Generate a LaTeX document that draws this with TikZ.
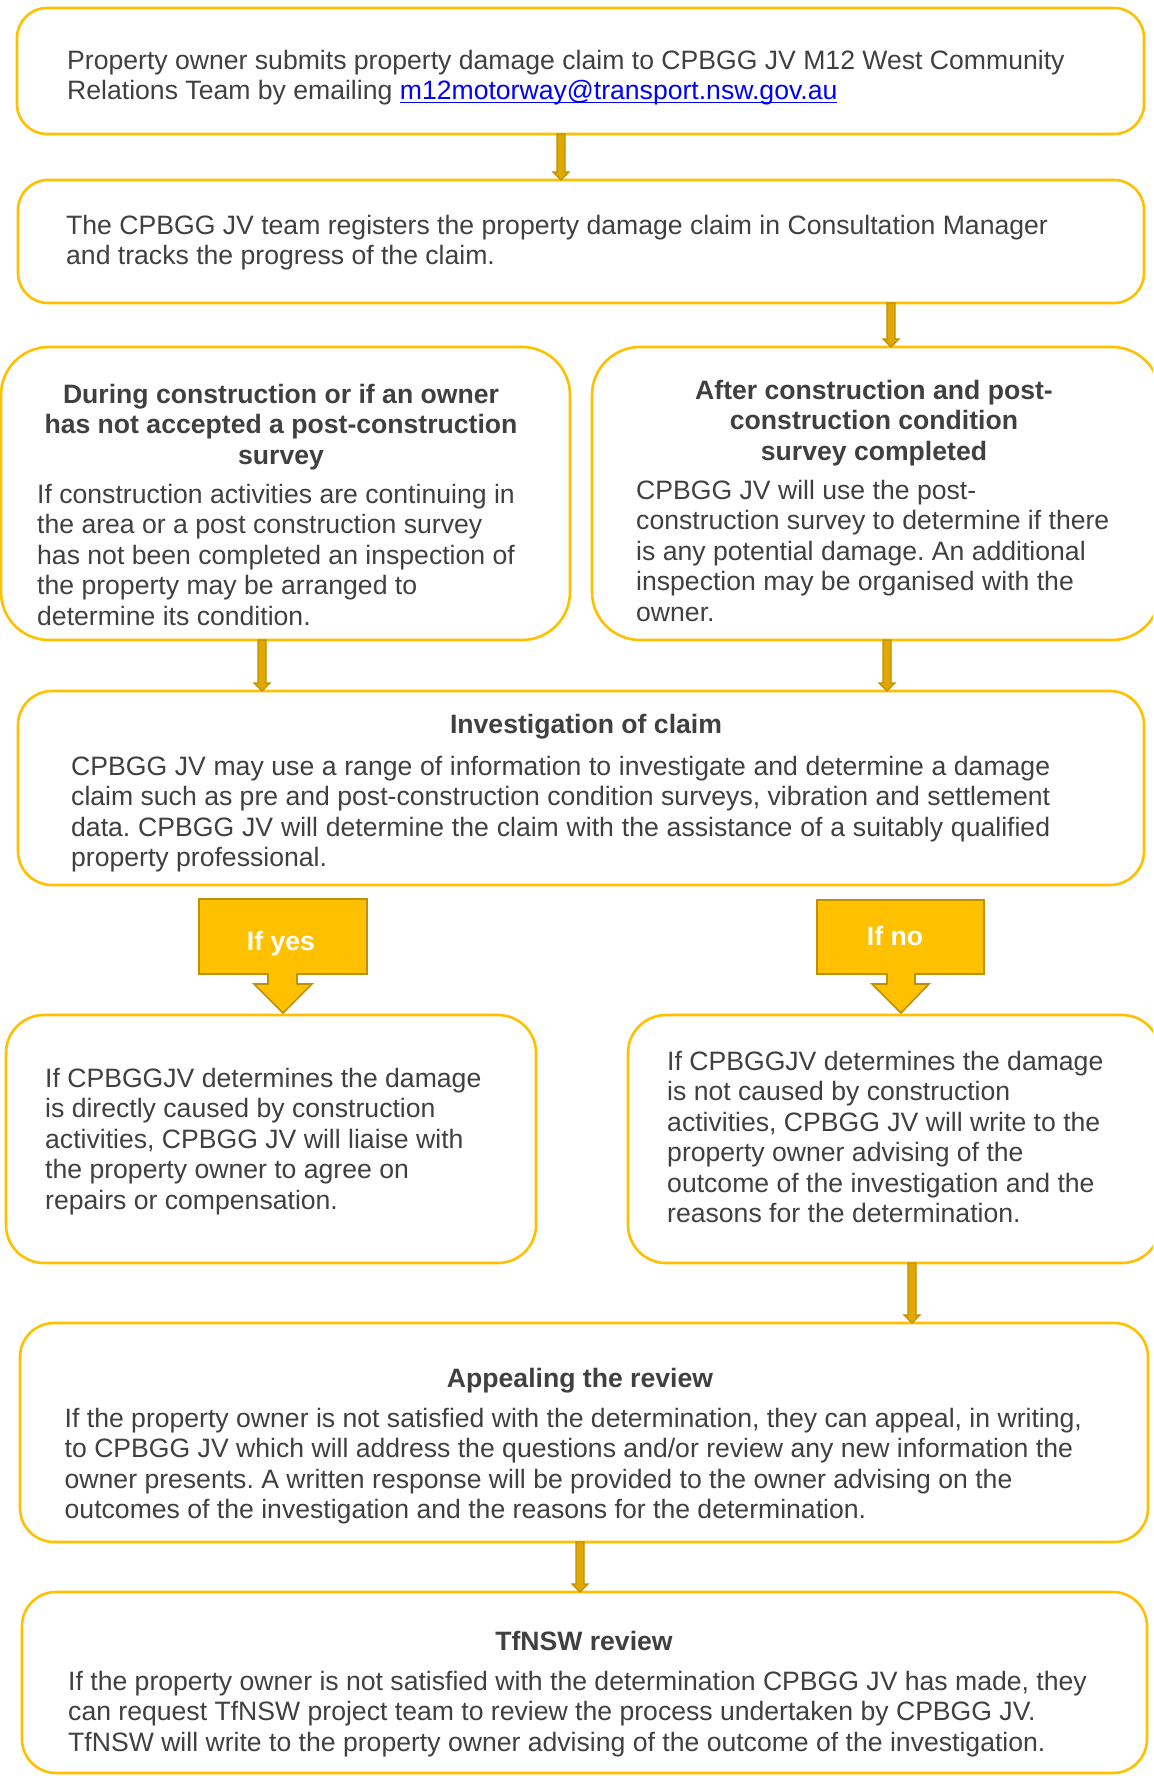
\documentclass[tikz,border=0pt]{standalone}
\usepackage{fontspec}
\setmainfont{Liberation Sans}
\usetikzlibrary{calc}
\definecolor{gold}{HTML}{FFC000}
\definecolor{darkgold}{HTML}{BF9000}
\definecolor{shaftgold}{HTML}{E0A800}
\definecolor{tgray}{HTML}{404040}
\definecolor{linkblue}{HTML}{0000FF}
\newcommand\bodyfont{\fontsize{26.6}{30.5}\selectfont\frenchspacing}
\newcommand\linkul[1]{\setbox0\hbox{#1}\rlap{\rule[-3.5pt]{\wd0}{1.6pt}}\box0}
\newcommand\conn[3]{%
  \path (#2.south -| #1,0) coordinate (cs) (#3.north -| #1,0) coordinate (ce);
  \draw[connector] ($(cs)+(-4,0)$) -- ($(ce)+(-4,-8)$) -- ($(ce)+(-8,-8)$) -- (ce)
     -- ($(ce)+(8,-8)$) -- ($(ce)+(4,-8)$) -- ($(cs)+(4,0)$) -- cycle;}
\begin{document}
\begin{tikzpicture}[x=1pt,y=-1pt,
  box/.style={draw=gold, line width=2.6pt, rectangle, inner sep=0pt, outer sep=0pt, anchor=north west},
  txt/.style={anchor=north west, inner sep=0pt, align=left, font=\bodyfont, text=tgray},
  head/.style={anchor=north, inner sep=0pt, align=center, font=\bodyfont\bfseries, text=tgray},
  connector/.style={fill=shaftgold, draw=darkgold, line width=1.2pt, line join=miter},
  callout/.style={fill=gold, draw=darkgold, line width=1.6pt, line join=miter},
  calltext/.style={font=\bodyfont\bfseries, text=white, anchor=base, inner sep=0pt}]
\fill[white] (0,0) rectangle (1153,1776);
\clip (0,0) rectangle (1153,1776);

% boxes
\node[box, rounded corners=30pt, minimum width=1127pt, minimum height=126pt] (b1) at (17,8) {};
\node[box, rounded corners=30pt, minimum width=1126pt, minimum height=123pt] (b2) at (18,180) {};
\node[box, rounded corners=48pt, minimum width=569pt, minimum height=293pt] (b3l) at (1,347) {};
\node[box, rounded corners=48pt, minimum width=568pt, minimum height=293pt] (b3r) at (592,347) {};
\node[box, rounded corners=34pt, minimum width=1126pt, minimum height=194pt] (b4) at (18,691) {};
\node[box, rounded corners=38pt, minimum width=530pt, minimum height=248pt] (b5l) at (6,1015) {};
\node[box, rounded corners=38pt, minimum width=532pt, minimum height=248pt] (b5r) at (628,1015) {};
\node[box, rounded corners=34pt, minimum width=1128pt, minimum height=219pt] (b6) at (20,1323) {};
\node[box, rounded corners=34pt, minimum width=1125pt, minimum height=181pt] (b7) at (22,1592) {};

% texts
\node[txt] (t1) at (67,47.7) {\strut Property owner submits property damage claim to CPBGG JV M12 West Community\\Relations Team by emailing {\color{linkblue}\linkul{m12motorway@transport.nsw.gov.au}}};
\node[txt] (t2) at (66,212.7) {\strut The CPBGG JV team registers the property damage claim in Consultation Manager\\and tracks the progress of the claim.};
\node[head] (h3l) at (281,381.7) {\strut During construction or if an owner\\has not accepted a post-construction\\survey};
\node[txt] (t3l) at (37,481.7) {\strut If construction activities are continuing in\\the area or a post construction survey\\has not been completed an inspection of\\the property may be arranged to\\determine its condition.};
\node[head] (h3r) at (874,377.7) {\strut After construction and post-\\construction condition\\survey completed};
\node[txt] (t3r) at (636,477.7) {\strut CPBGG JV will use the post-\\construction survey to determine if there\\is any potential damage. An additional\\inspection may be organised with the\\owner.};
\node[head] (h4) at (586,711.7) {\strut Investigation of claim};
\node[txt] (t4) at (71,753.7) {\strut\makebox[979pt][s]{CPBGG JV may use a range of information to investigate and determine a damage}\\\makebox[979pt][s]{claim such as pre and post-construction condition surveys, vibration and settlement}\\\makebox[979pt][s]{data. CPBGG JV will determine the claim with the assistance of a suitably qualified}\\property professional.};
\node[txt] (t5l) at (45,1065.7) {\strut If CPBGGJV determines the damage\\is directly caused by construction\\activities, CPBGG JV will liaise with\\the property owner to agree on\\repairs or compensation.};
\node[txt] (t5r) at (667,1048.7) {\strut If CPBGGJV determines the damage\\is not caused by construction\\activities, CPBGG JV will write to the\\property owner advising of the\\outcome of the investigation and the\\reasons for the determination.};
\node[head] (h6) at (580,1365.7) {\strut Appealing the review};
\node[txt] (t6) at (64.5,1405.7) {\strut If the property owner is not satisfied with the determination, they can appeal, in writing,\\to CPBGG JV which will address the questions and/or review any new information the\\owner presents. A written response will be provided to the owner advising on the\\outcomes of the investigation and the reasons for the determination.};
\node[head] (h7) at (584,1628.7) {\strut TfNSW review};
\node[txt] (t7) at (68,1668.7) {\strut If the property owner is not satisfied with the determination CPBGG JV has made, they\\can request TfNSW project team to review the process undertaken by CPBGG JV.\\TfNSW will write to the property owner advising of the outcome of the investigation.};

% connectors
\conn{561}{b1}{b2}
\conn{891}{b2}{b3r}
\conn{262}{b3l}{b4}
\conn{887}{b3r}{b4}
\conn{912}{b5r}{b6}
\conn{580}{b6}{b7}

% decision callouts
\draw[callout] (199,899) -- (367,899) -- (367,974) -- (297,974) -- (297,984) -- (312,984)
  -- (283,1013) -- (254,984) -- (268,984) -- (268,974) -- (199,974) -- cycle;
\node[calltext] (yes) at (281,950) {If yes};
\draw[callout] (817,900) -- (984,900) -- (984,974) -- (915,974) -- (915,984) -- (929,984)
  -- (901,1013) -- (872,984) -- (887,984) -- (887,974) -- (817,974) -- cycle;
\node[calltext] (no) at (895,945) {If no};
\end{tikzpicture}
\end{document}
